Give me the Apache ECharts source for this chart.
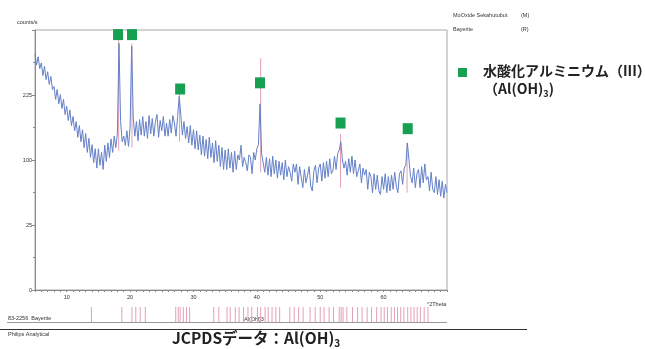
<!DOCTYPE html>
<html>
<head>
<meta charset="utf-8">
<script src="https://cdn.jsdelivr.net/npm/echarts@6/dist/echarts.min.js"></script>
<style>
  html, body { margin: 0; padding: 0; background: #fff; }
  #chart { width: 645px; height: 349px; }
</style>
</head>
<body>
<div id="chart"></div>
<script>
// XRD scan, counts/s every 0.25 deg 2theta starting at 5
const scanStart = 5;
const scanStep = 0.25;
const scanCounts = [
  330, 300, 322, 290,  305, 272, 296, 262,  282, 250, 270, 238,
  245, 215, 238, 205,  226, 195, 215, 182,  200, 170, 192, 160,
  178, 150, 168, 138,  160, 130, 152, 120,  145, 112, 136, 104,
  125, 96, 118, 88,    118, 92, 112, 86,    124, 98, 128, 104,
  135, 112, 140, 120,  145, 360, 170, 130,  140, 124, 150, 122,
  155, 352, 175, 140,  168, 132, 172, 142,  178, 140, 168, 136,
  180, 144, 174, 140,  168, 182, 138, 170,  150, 178, 140, 165,
  140, 172, 146, 180,  165, 140, 178, 222,  182, 142, 168, 136,
  158, 128, 160, 124,  152, 118, 150, 116,  142, 108, 140, 106,
  134, 102, 138, 104,  128, 96, 132, 98,    124, 90, 120, 86,
  116, 86, 118, 88,    112, 82, 114, 86,    108, 100, 124, 90,
  104, 96, 84, 108,    104, 80, 112, 100,   118, 125, 205, 110,
  108, 82, 104, 78,    102, 76, 106, 80,    100, 74, 98, 78,
  96, 72, 100, 76,     90, 82, 70, 94,      82, 94, 66, 90,
  88, 62, 86, 68,      78, 90, 64, 58,      84, 92, 68, 88,
  94, 70, 96, 74,      98, 76, 102, 80,     84, 106, 86, 110,
  116, 130, 100, 88,   98, 78, 102, 82,     106, 80, 100, 76,
  84, 94, 68, 88,      78, 86, 60, 82,      76, 56, 80, 60,
  78, 58, 54, 76,      60, 80, 56, 76,      58, 78, 60, 82,
  64, 56, 80, 84,      66, 88, 92, 128,     100, 76, 68, 88,
  62, 80, 86, 62,      90, 68, 94, 72,      76, 58, 82, 60,
  56, 76, 54, 72,      52, 70, 50, 66,      56
];

// green squares above the Al(OH)3 peaks: [2theta, counts]
const peakMarkers = [[18.1, 386], [20.3, 386], [27.9, 239], [40.5, 254], [53.2, 165], [63.8, 154]];

// pink reference sticks in the scan: [2theta, from, to]
const refSticks = [[18.2, 115, 370], [20.3, 120, 360], [27.8, 130, 230], [40.6, 82, 318], [53.2, 62, 144], [63.7, 56, 128]];

// 83-2256 Bayerite reference lines (bottom strip)
const stripLines = [
  13.9, 18.7, 20.3, 20.9, 21.6, 22.4, 27.2, 27.6, 27.9, 28.4, 28.9, 29.4,
  33.2, 34.0, 35.3, 35.8, 36.6, 37.2, 37.9, 38.6, 39.2, 40.1, 40.6, 41.3,
  41.8, 42.4, 43.0, 43.6, 45.2, 45.9, 46.6, 47.3, 48.4, 49.2, 50.0, 50.6,
  51.4, 52.1, 53.0, 53.3, 53.6, 54.2, 55.1, 55.9, 56.6, 57.4, 58.1, 58.9,
  59.6, 60.1, 60.6, 61.2, 61.7, 62.2, 62.7, 63.2, 63.8, 64.3, 64.8, 65.3,
  65.8, 66.4, 67.0
];

const xLabels = [10, 20, 30, 40, 50, 60];

const smallFont = '"Liberation Sans", Arial, sans-serif';
const jpFont = '"Noto Sans CJK JP", "Noto Sans", sans-serif';
const green = '#17a052';
const pink = '#e3a0b4';

const scanData = scanCounts.map((c, i) => [scanStart + i * scanStep, Math.sqrt(c)]);

const stickRender = (lowDim, highDim) => (params, api) => {
  const p0 = api.coord([api.value(0), api.value(lowDim)]);
  const p1 = api.coord([api.value(0), api.value(highDim)]);
  return {
    type: 'line',
    shape: { x1: p0[0], y1: p0[1], x2: p1[0], y2: p1[1] },
    style: { stroke: pink, lineWidth: 1 },
  };
};

const option = {
  animation: false,
  backgroundColor: '#fff',
  grid: [
    { left: 35, right: 198, top: 30, bottom: 59, show: true, borderColor: '#a8a8a8', borderWidth: 1 },
    { left: 35, right: 198, top: 307, height: 15 },
  ],
  xAxis: [
    {
      type: 'value', min: 5, max: 70, interval: 1,
      axisLine: { lineStyle: { color: '#8a8a8a' } },
      axisTick: { length: 2, lineStyle: { color: '#8a8a8a' } },
      axisLabel: {
        interval: 0, fontSize: 5.5, color: '#333', fontFamily: smallFont, margin: 4,
        formatter: v => (xLabels.includes(v) ? String(v) : ''),
      },
      splitLine: { show: false },
    },
    { type: 'value', gridIndex: 1, min: 5, max: 70, show: false },
  ],
  yAxis: [
    {
      type: 'value', min: 0, max: 20, interval: 5,
      axisLine: { show: true, lineStyle: { color: '#8a8a8a' } },
      axisTick: { show: true, length: 3, lineStyle: { color: '#8a8a8a' } },
      minorTick: { show: true, splitNumber: 2, length: 2, lineStyle: { color: '#8a8a8a' } },
      axisLabel: {
        fontSize: 5.5, color: '#333', fontFamily: smallFont, margin: 3, showMaxLabel: false,
        formatter: v => String(v * v),
      },
      splitLine: { show: false },
    },
    { type: 'value', gridIndex: 1, min: 0, max: 1, show: false },
  ],
  series: [
    {
      type: 'custom', xAxisIndex: 0, yAxisIndex: 0, z: 1,
      renderItem: stickRender(1, 2),
      data: refSticks.map(([x, lo, hi]) => [x, Math.sqrt(lo), Math.sqrt(hi)]),
    },
    {
      type: 'line', xAxisIndex: 0, yAxisIndex: 0, z: 2,
      data: scanData, showSymbol: false,
      lineStyle: { color: '#6480c8', width: 1 },
    },
    {
      type: 'scatter', xAxisIndex: 0, yAxisIndex: 0, z: 3,
      symbol: 'rect', symbolSize: [10, 11],
      itemStyle: { color: green, opacity: 1 },
      data: peakMarkers.map(([x, c]) => [x, Math.sqrt(c)]),
    },
    {
      type: 'custom', xAxisIndex: 1, yAxisIndex: 1,
      renderItem: stickRender(1, 2),
      data: stripLines.map(x => [x, 0, 1]),
    },
  ],
  graphic: [
    { type: 'text', left: 17, top: 19, style: { text: 'counts/s', fontSize: 5.5, fill: '#333', fontFamily: smallFont } },
    { type: 'text', left: 427, top: 301, style: { text: '°2Theta', fontSize: 5.5, fill: '#333', fontFamily: smallFont } },
    { type: 'text', left: 453, top: 12, style: { text: 'MoOxide Sekahutubut', fontSize: 5.5, fill: '#333', fontFamily: smallFont } },
    { type: 'text', left: 521, top: 12, style: { text: '(M)', fontSize: 5.5, fill: '#333', fontFamily: smallFont } },
    { type: 'text', left: 453, top: 26, style: { text: 'Bayerite', fontSize: 5.5, fill: '#333', fontFamily: smallFont } },
    { type: 'text', left: 521, top: 26, style: { text: '(R)', fontSize: 5.5, fill: '#333', fontFamily: smallFont } },
    { type: 'text', left: 8, top: 315, style: { text: '83-2256  Bayerite', fontSize: 5.5, fill: '#333', fontFamily: smallFont } },
    { type: 'text', left: 244, top: 316, style: { text: 'Al(OH)3', fontSize: 5.5, fill: '#333', fontFamily: smallFont } },
    { type: 'text', left: 8, top: 331, style: { text: 'Philips Analytical', fontSize: 5.5, fill: '#333', fontFamily: smallFont } },
    { type: 'line', shape: { x1: 7, y1: 322.5, x2: 447, y2: 322.5 }, style: { stroke: '#999', lineWidth: 1 } },
    { type: 'line', shape: { x1: 0, y1: 329.5, x2: 527, y2: 329.5 }, style: { stroke: '#333', lineWidth: 1.2 } },
    {
      type: 'text', left: 172, top: 330,
      style: {
        text: '{a|JCPDSデータ：Al(OH)}{s|3}',
        rich: {
          a: { fontSize: 15.5, fontWeight: 'bold', fill: '#222', fontFamily: jpFont, lineHeight: 20 },
          s: { fontSize: 10, fontWeight: 'bold', fill: '#222', fontFamily: jpFont, lineHeight: 10, verticalAlign: 'bottom' },
        },
      },
    },
    { type: 'rect', shape: { x: 458, y: 68, width: 9, height: 9 }, style: { fill: green } },
    {
      type: 'text', left: 483, top: 64,
      style: { text: '水酸化アルミニウム（III）', fontSize: 14, fontWeight: 'bold', fill: '#222', fontFamily: jpFont },
    },
    {
      type: 'text', left: 484, top: 82,
      style: {
        text: '{a|（Al(OH)}{s|3}{a|)}',
        rich: {
          a: { fontSize: 14, fontWeight: 'bold', fill: '#222', fontFamily: jpFont, lineHeight: 18 },
          s: { fontSize: 9, fontWeight: 'bold', fill: '#222', fontFamily: jpFont, lineHeight: 9, verticalAlign: 'bottom' },
        },
      },
    },
  ],
};

const chart = echarts.init(document.getElementById('chart'));
chart.setOption(option);
</script>
</body>
</html>
